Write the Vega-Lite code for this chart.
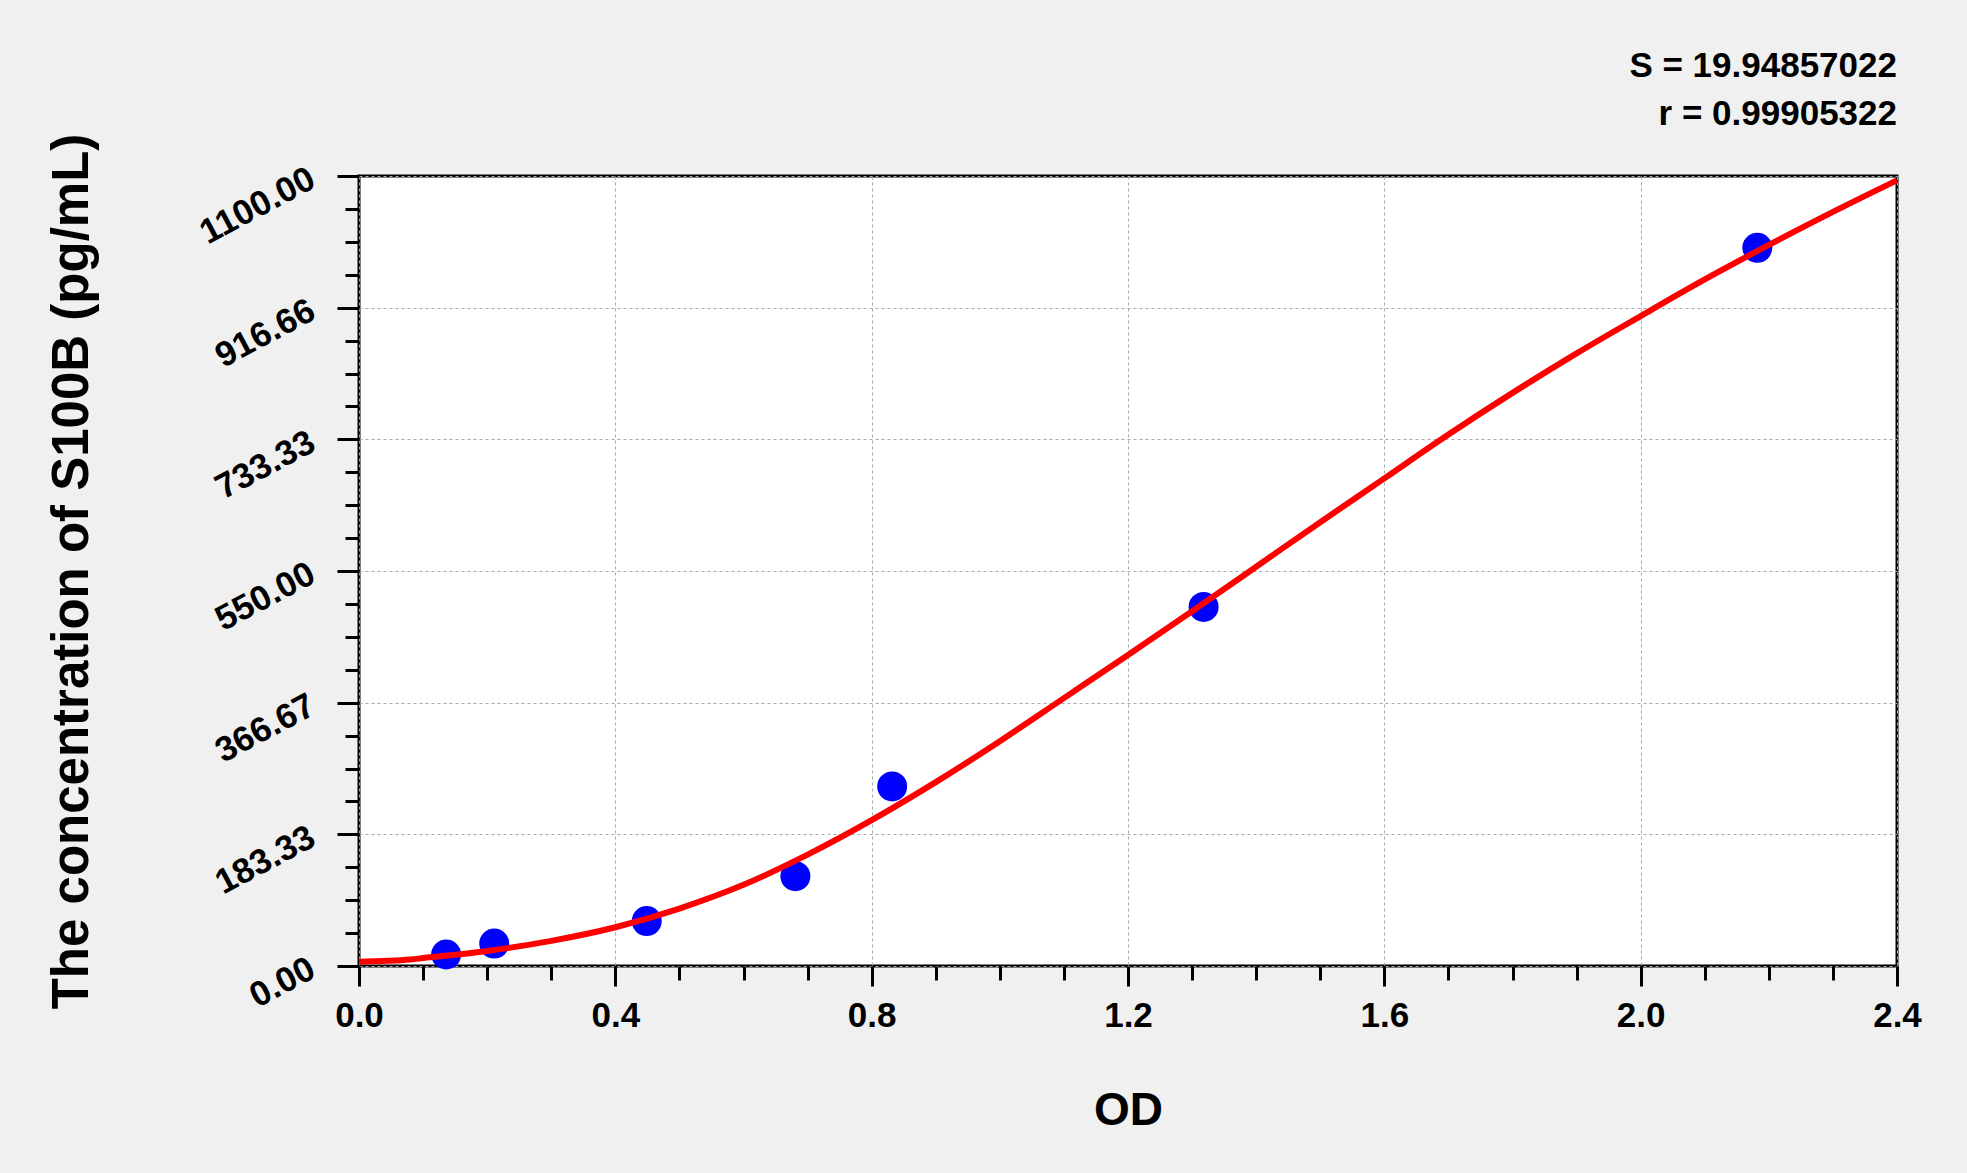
{
  "$schema": "https://vega.github.io/schema/vega-lite/v6.json",
  "width": 1538,
  "height": 790,
  "autosize": {"type": "none"},
  "padding": {"left": 359, "top": 176, "right": 70, "bottom": 207},
  "background": "#F0F0F0",
  "config": {
    "view": {"fill": "white", "stroke": "black", "strokeWidth": 3},
    "font": "Liberation Sans"
  },
  "title": {
    "text": "S = 19.94857022",
    "subtitle": "r = 0.99905322",
    "anchor": "end",
    "frame": "group",
    "font": "Liberation Sans",
    "fontSize": 35,
    "fontWeight": "bold",
    "color": "black",
    "subtitleFont": "Liberation Sans",
    "subtitleFontSize": 35,
    "subtitleFontWeight": "bold",
    "subtitleColor": "black",
    "subtitlePadding": 13,
    "offset": 1
  },
  "datasets": {
    "standards": [
      {"od": 0.136, "conc": 16},
      {"od": 0.211, "conc": 31.25},
      {"od": 0.449, "conc": 62.5},
      {"od": 0.681, "conc": 125},
      {"od": 0.832, "conc": 250},
      {"od": 1.318, "conc": 500},
      {"od": 2.182, "conc": 1000}
    ],
    "curve": [
      {"od": 0.0, "conc": 6},
      {"od": 0.08, "conc": 9},
      {"od": 0.1, "conc": 11},
      {"od": 0.2, "conc": 21},
      {"od": 0.3, "conc": 35},
      {"od": 0.4, "conc": 54},
      {"od": 0.5, "conc": 80},
      {"od": 0.6, "conc": 113},
      {"od": 0.7, "conc": 155},
      {"od": 0.8, "conc": 203},
      {"od": 0.9, "conc": 256},
      {"od": 1.0, "conc": 313},
      {"od": 1.1, "conc": 373},
      {"od": 1.2, "conc": 433},
      {"od": 1.3, "conc": 494},
      {"od": 1.4, "conc": 556},
      {"od": 1.5, "conc": 618},
      {"od": 1.6, "conc": 679},
      {"od": 1.7, "conc": 740},
      {"od": 1.8, "conc": 798},
      {"od": 1.9, "conc": 853},
      {"od": 2.0, "conc": 905},
      {"od": 2.1, "conc": 956},
      {"od": 2.2, "conc": 1004},
      {"od": 2.3, "conc": 1050},
      {"od": 2.4, "conc": 1094}
    ]
  },
  "layer": [
    {
      "data": {"name": "standards"},
      "mark": {"type": "point", "shape": "circle", "filled": true, "color": "#0000FF", "opacity": 1, "size": 900},
      "encoding": {
        "x": {
          "field": "od", "type": "quantitative",
          "scale": {"domain": [0, 2.4], "nice": false, "zero": false},
          "axis": {
            "orient": "bottom",
            "values": [0.1, 0.2, 0.3, 0.5, 0.6, 0.7, 0.9, 1.0, 1.1, 1.3, 1.4, 1.5, 1.7, 1.8, 1.9, 2.1, 2.2, 2.3],
            "labels": false, "domain": false, "grid": false,
            "tickSize": 14, "tickWidth": 3, "tickColor": "black",
            "title": null
          }
        },
        "y": {
          "field": "conc", "type": "quantitative",
          "scale": {"domain": [0, 1100], "nice": false, "zero": false},
          "axis": {
            "orient": "left",
            "values": [45.83, 91.67, 137.5, 229.17, 275, 320.83, 412.5, 458.33, 504.17, 595.83, 641.67, 687.5, 779.17, 825, 870.83, 962.5, 1008.33, 1054.17],
            "labels": false, "domain": false, "grid": false,
            "tickSize": 14, "tickWidth": 3, "tickColor": "black",
            "title": null
          }
        }
      }
    },
    {
      "data": {"name": "curve"},
      "mark": {"type": "line", "color": "#FF0000", "strokeWidth": 6, "interpolate": "monotone"},
      "encoding": {
        "x": {
          "field": "od", "type": "quantitative",
          "scale": {"domain": [0, 2.4], "nice": false, "zero": false},
          "axis": {
            "orient": "bottom",
            "values": [0, 0.4, 0.8, 1.2, 1.6, 2.0, 2.4],
            "format": ".1f",
            "title": "OD",
            "titleFont": "Liberation Sans", "titleFontSize": 46, "titleFontWeight": "bold", "titleColor": "black",
            "titlePadding": 55,
            "labelFont": "Liberation Sans", "labelFontSize": 35, "labelFontWeight": "bold", "labelColor": "black",
            "labelPadding": 12, "labelFlush": false, "labelOverlap": false,
            "tickSize": 20, "tickWidth": 3, "tickColor": "black",
            "domain": false,
            "grid": true, "gridColor": "#A8A8A8", "gridDash": [3, 3], "gridWidth": 1
          }
        },
        "y": {
          "field": "conc", "type": "quantitative",
          "scale": {"domain": [0, 1100], "nice": false, "zero": false},
          "axis": {
            "orient": "left",
            "values": [0, 183.33, 366.67, 550, 733.33, 916.66, 1100],
            "format": ".2f",
            "title": "The concentration of S100B (pg/mL)",
            "titleFont": "Liberation Sans", "titleFontSize": 51, "titleFontWeight": "bold", "titleColor": "black",
            "titlePadding": 96,
            "labelFont": "Liberation Sans", "labelFontSize": 35, "labelFontWeight": "bold", "labelColor": "black",
            "labelAngle": -28, "labelAlign": "right", "labelBaseline": "middle",
            "labelPadding": 25, "labelFlush": false, "labelOverlap": false,
            "tickSize": 22, "tickWidth": 3, "tickColor": "black",
            "domain": false,
            "grid": true, "gridColor": "#A8A8A8", "gridDash": [3, 3], "gridWidth": 1
          }
        }
      }
    }
  ],
  "resolve": {"axis": {"x": "independent", "y": "independent"}}
}
